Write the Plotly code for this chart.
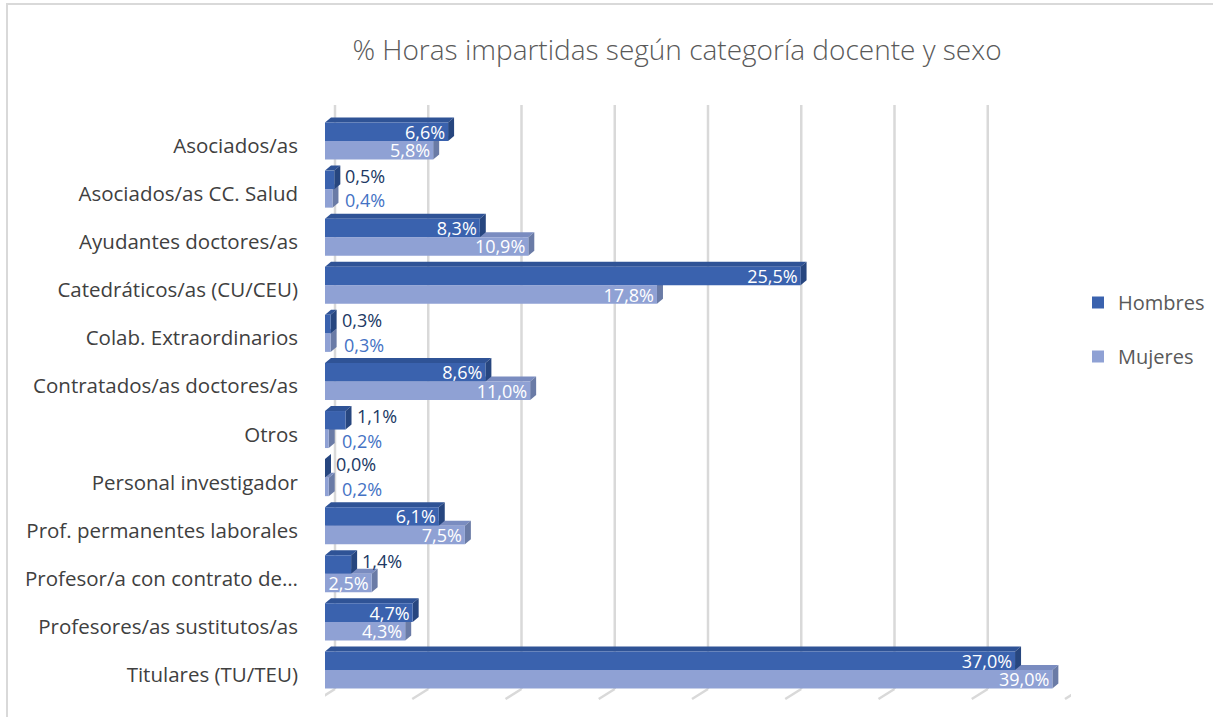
import plotly.graph_objects as go

categories = ["Asociados/as", "Asociados/as CC. Salud", "Ayudantes doctores/as",
              "Catedráticos/as (CU/CEU)", "Colab. Extraordinarios",
              "Contratados/as doctores/as", "Otros", "Personal investigador",
              "Prof. permanentes laborales", "Profesor/a con contrato de…",
              "Profesores/as sustitutos/as", "Titulares (TU/TEU)"]
hombres = [6.6, 0.5, 8.3, 25.5, 0.3, 8.6, 1.1, 0.0, 6.1, 1.4, 4.7, 37.0]
mujeres = [5.8, 0.4, 10.9, 17.8, 0.3, 11.0, 0.2, 0.2, 7.5, 2.5, 4.3, 39.0]
grid_ticks = [0, 5, 10, 15, 20, 25, 30, 35, 40]

FONT = "Open Sans"
C_H, C_H_TOP, C_H_SIDE = "#3A62AE", "#2F5396", "#27467F"
C_M, C_M_TOP, C_M_SIDE = "#8FA1D4", "#7A8CC0", "#6A7BA6"
LBL_SIZE = 18

L, R, T, B = 325, 142, 117, 23
W, H = 1213, 717
pw = W - L - R
ph = H - T - B
XMAX = 40
px_x = XMAX / pw
px_y = len(categories) / ph

BW = 0.385
DX = 6 * px_x
DY = 5 * px_y
THR = 2.0

ypos = list(range(len(categories)))


def fmt(v):
    return f"{v:.1f}".replace(".", ",") + "%"


fig = go.Figure()
fig.add_trace(go.Bar(
    name="Hombres", y=ypos, x=hombres, orientation="h", width=BW, offset=-BW,
    marker=dict(color=C_H, line=dict(width=0)),
    text=[fmt(v) if v >= THR else "" for v in hombres], textposition="inside",
    insidetextanchor="end", constraintext="none",
    insidetextfont=dict(color="white", size=LBL_SIZE, family=FONT),
    legendgroup="h", hoverinfo="x+name"))
fig.add_trace(go.Bar(
    name="Mujeres", y=ypos, x=mujeres, orientation="h", width=BW, offset=0,
    marker=dict(color=C_M, line=dict(width=0)),
    text=[fmt(v) if v >= THR else "" for v in mujeres], textposition="inside",
    insidetextanchor="end", constraintext="none",
    insidetextfont=dict(color="white", size=LBL_SIZE, family=FONT),
    legendgroup="m", hoverinfo="x+name"))

annotations = []
for i, (vh, vm) in enumerate(zip(hombres, mujeres)):
    if vh < THR:
        annotations.append(dict(x=vh, y=i - BW / 2, xref="x", yref="y", text=fmt(vh),
                                showarrow=False, xanchor="left", yanchor="middle",
                                xshift=9, yshift=4,
                                font=dict(family=FONT, size=LBL_SIZE, color="#203864")))
    if vm < THR:
        annotations.append(dict(x=vm, y=i + BW / 2, xref="x", yref="y", text=fmt(vm),
                                showarrow=False, xanchor="left", yanchor="middle",
                                xshift=11, yshift=-2,
                                font=dict(family=FONT, size=LBL_SIZE, color="#4472C4")))

shapes = []
gb = 10 * px_x
gf = -6 * px_x
y_top = (H - B - 105) / ph
y_back = (H - B - 689) / ph
y_front = (H - B - 699) / ph
for g in grid_ticks:
    shapes.append(dict(type="line", xref="x", yref="paper", x0=g + gb, x1=g + gb,
                       y0=y_back, y1=y_top, line=dict(color="#D9D9D9", width=2.5), layer="below"))
    shapes.append(dict(type="line", xref="x", yref="paper", x0=g + gb, x1=g + gf,
                       y0=y_back, y1=y_front, line=dict(color="#D9D9D9", width=2.5), layer="below"))


def poly(pts, color):
    d = "M " + " L ".join(f"{x},{y}" for x, y in pts) + " Z"
    return dict(type="path", xref="x", yref="y", path=d, fillcolor=color,
                line=dict(width=0), layer="below")


for i, (vh, vm) in enumerate(zip(hombres, mujeres)):
    a, b = i, i + BW
    shapes.append(poly([(0, a), (DX, a - DY), (vm + DX, a - DY), (vm, a)], C_M_TOP))
    shapes.append(poly([(vm, a), (vm + DX, a - DY), (vm + DX, b - DY), (vm, b)], C_M_SIDE))
    a, b = i - BW, i
    shapes.append(poly([(0, a), (DX, a - DY), (vh + DX, a - DY), (vh, a)], C_H_TOP))
    shapes.append(poly([(vh, a), (vh + DX, a - DY), (vh + DX, b - DY), (vh, b)], C_H_SIDE))

shapes.append(dict(type="rect", xref="paper", yref="paper",
                   x0=(7 - L) / pw, x1=(W + 20 - L) / pw,
                   y0=-(B + 20) / ph, y1=(H - B - 4) / ph,
                   line=dict(color="#D9D9D9", width=2), fillcolor="rgba(0,0,0,0)", layer="below"))

fig.update_layout(
    width=W, height=H,
    margin=dict(l=L, r=R, t=T, b=B, autoexpand=False),
    paper_bgcolor="white", plot_bgcolor="white",
    font=dict(family=FONT, color="#404040"),
    title=dict(text="% Horas impartidas según categoría docente y sexo",
               x=677 / W, xref="container", xanchor="center",
               y=1 - 50 / H, yref="container", yanchor="middle",
               font=dict(family=FONT, size=28, color="#595959", weight=300)),
    showlegend=True,
    legend=dict(x=(1078 - L) / pw, xanchor="left", y=(H - B - 283) / ph, yanchor="top",
                font=dict(family=FONT, size=20, color="#595959"),
                tracegroupgap=25, traceorder="grouped", itemwidth=30,
                bgcolor="rgba(0,0,0,0)"),
    shapes=shapes,
    annotations=annotations,
    bargap=0.2,
)
fig.update_xaxes(range=[0, XMAX], showgrid=False, showticklabels=False, zeroline=False,
                 showline=False, fixedrange=True)
fig.update_yaxes(range=[len(categories) - 0.5, -0.5], tickmode="array",
                 tickvals=[i + 0.1 for i in ypos], ticktext=categories,
                 showgrid=False, zeroline=False, showline=False, ticks="",
                 ticklabelstandoff=26,
                 tickfont=dict(family=FONT, size=20.5, color="#404040"))

fig.write_html("out.html", config={"displayModeBar": False},
               post_script="document.body.style.margin='0';")
